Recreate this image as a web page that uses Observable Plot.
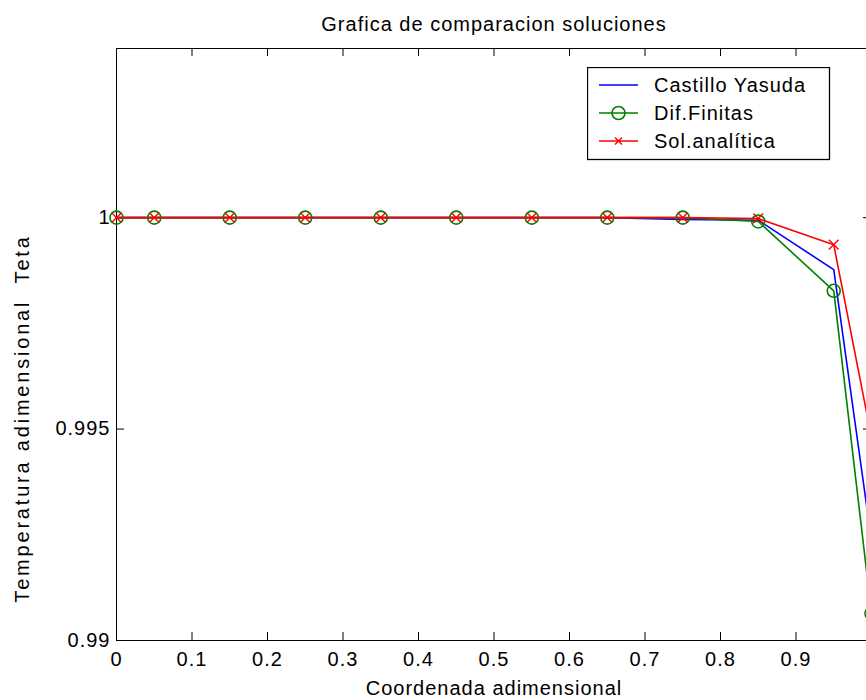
<!DOCTYPE html>
<html><head><meta charset="utf-8">
<script src="https://cdn.jsdelivr.net/npm/d3@7"></script>
<script src="https://cdn.jsdelivr.net/npm/@observablehq/plot@0.6"></script>
<style>
html,body{margin:0;padding:0;background:#fff;overflow:hidden;width:866px;height:700px}
#wrap{position:relative;width:900px;height:700px}
#legend{position:absolute;left:587px;top:67px}
</style></head>
<body><div id="wrap"></div>
<script>
const xCoord = [0, 0.05, 0.15, 0.25, 0.35, 0.45, 0.55, 0.65, 0.75, 0.85, 0.95, 1.0];
const castilloYasuda = [1, 1, 1, 1, 1, 1, 1, 1, 0.99996, 0.99994, 0.99877, 0.99236];
const difFinitas = [1, 1, 1, 1, 1, 1, 1, 1, 1, 0.99991, 0.99827, 0.99064];
const solAnalitica = [1, 1, 1, 1, 1, 1, 1, 1, 1, 0.99998, 0.99936, 0.9948];
const xTicks = [0, 0.1, 0.2, 0.3, 0.4, 0.5, 0.6, 0.7, 0.8, 0.9, 1];
const xTickLabels = [0, 0.1, 0.2, 0.3, 0.4, 0.5, 0.6, 0.7, 0.8, 0.9]; // label at 1 lies outside the picture
const yTicks = [0.99, 0.995, 1];
const seriesNames = ["Castillo Yasuda", "Dif.Finitas", "Sol.analítica"];
const seriesColors = ["#0000ff", "#008000", "#ff0000"];
const titleText = "Grafica de comparacion soluciones";
const xLabel = "Coordenada adimensional";
const yLabel = "Temperatura adimensional  Teta";

const FONT = '"Liberation Sans", Arial, sans-serif';
const mk = (ys) => xCoord.map((x, i) => ({x, y: ys[i]}));
const blue = mk(castilloYasuda), green = mk(difFinitas), red = mk(solAnalitica);

const W = 900, H = 700, mL = 116, mR = 29, mT = 48, mB = 60;
const fw = W - mL - mR, fh = H - mT - mB, tl = 8;

const chart = Plot.plot({
  width: W, height: H,
  marginLeft: mL, marginRight: mR, marginTop: mT, marginBottom: mB,
  style: {fontFamily: FONT, fontSize: "20px", letterSpacing: "1px", background: "#fff", color: "#000", overflow: "visible"},
  x: {domain: [0, 1]},
  y: {domain: [0.99, 1.004]},
  marks: [
    Plot.frame({stroke: "#000", strokeWidth: 1}),
    Plot.tickX(xTicks, {x: d => d, insetTop: fh - tl, stroke: "#000"}),
    Plot.tickX(xTicks, {x: d => d, insetBottom: fh - tl, stroke: "#000"}),
    Plot.tickY(yTicks, {y: d => d, insetRight: fw - tl, stroke: "#000"}),
    Plot.tickY(yTicks, {y: d => d, insetLeft: fw - tl, stroke: "#000"}),
    Plot.axisX(xTickLabels, {tickSize: 0, tickPadding: 11, tickFormat: d => String(d), label: null}),
    Plot.axisY(yTicks, {tickSize: 0, tickPadding: 6, tickFormat: d => String(d), label: null}),
    Plot.line(blue, {x: "x", y: "y", stroke: seriesColors[0], strokeWidth: 1.6}),
    Plot.line(green, {x: "x", y: "y", stroke: seriesColors[1], strokeWidth: 1.6}),
    Plot.dot(green, {x: "x", y: "y", r: 6.5, stroke: seriesColors[1], strokeWidth: 1.6, fill: "none"}),
    Plot.line(red, {x: "x", y: "y", stroke: seriesColors[2], strokeWidth: 1.6}),
    Plot.dot(red, {x: "x", y: "y", r: 4.5, symbol: "times", stroke: seriesColors[2], strokeWidth: 1.4}),
    Plot.text([titleText], {frameAnchor: "top", dy: -24, text: d => d, fontSize: 20, lineAnchor: "middle", fill: "#000"}),
    Plot.text([xLabel], {frameAnchor: "bottom", dy: 48, text: d => d, fontSize: 20, lineAnchor: "middle", fill: "#000"}),
    Plot.text([yLabel], {frameAnchor: "left", dx: -94, dy: 74, rotate: -90, textAnchor: "middle", text: d => d, fontSize: 20, lineAnchor: "middle", fill: "#000", style: "letter-spacing:2.8px"})
  ]
});
const wrap = document.getElementById("wrap");
wrap.appendChild(chart);
// wider tracking on the rotated axis title, as in the reference
chart.querySelectorAll("text").forEach(t => { if (t.textContent === yLabel) t.setAttribute("letter-spacing", "2.8px"); });

// legend
const ns = "http://www.w3.org/2000/svg";
const lg = document.createElementNS(ns, "svg");
lg.setAttribute("id", "legend");
lg.setAttribute("width", 244); lg.setAttribute("height", 94);
const el = (tag, attrs) => { const e = document.createElementNS(ns, tag); for (const k in attrs) e.setAttribute(k, attrs[k]); lg.appendChild(e); return e; };
el("rect", {x: 0.5, y: 0.5, width: 242, height: 92, fill: "#fff", stroke: "#000", "stroke-width": 1.3});
seriesNames.forEach((name, i) => {
  const cy = 18 + i * 28;
  el("line", {x1: 12, x2: 51, y1: cy, y2: cy, stroke: seriesColors[i], "stroke-width": 1.6});
  if (i === 1) el("circle", {cx: 31.5, cy, r: 6.5, fill: "none", stroke: seriesColors[i], "stroke-width": 1.6});
  if (i === 2) el("path", {d: `M${31.5-3.5},${cy-3.5}L${31.5+3.5},${cy+3.5}M${31.5-3.5},${cy+3.5}L${31.5+3.5},${cy-3.5}`, stroke: seriesColors[i], "stroke-width": 1.4, fill: "none"});
  const t = el("text", {x: 67, y: cy, "dominant-baseline": "central", "font-family": FONT, "font-size": 20, "letter-spacing": "1px", fill: "#000"});
  t.textContent = name;
});
wrap.appendChild(lg);
</script>
</body></html>
